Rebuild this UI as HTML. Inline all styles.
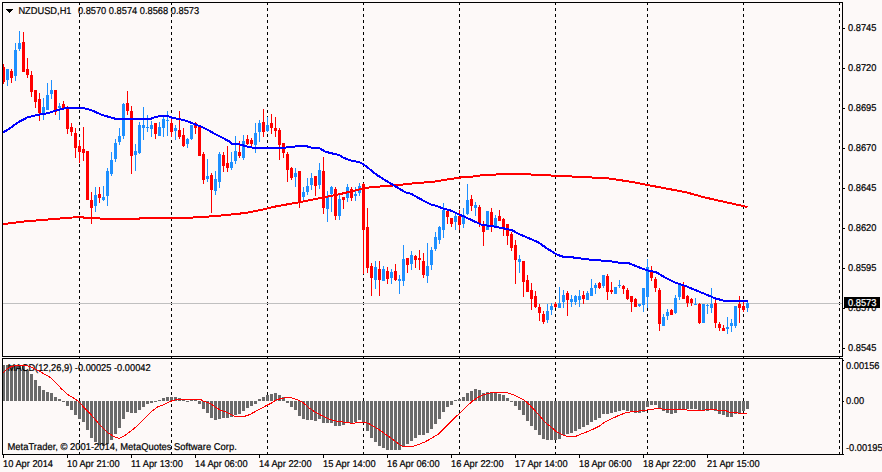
<!DOCTYPE html>
<html><head><meta charset="utf-8"><title>NZDUSD,H1</title>
<style>html,body{margin:0;padding:0;background:#fdf9f8;}body{width:882px;height:472px;overflow:hidden;}svg{display:block;}text{font-family:"Liberation Sans",sans-serif;font-size:9.9px;fill:#000;stroke:#000;stroke-width:0.2px;text-rendering:geometricPrecision;}</style>
</head><body>
<svg width="882" height="472" viewBox="0 0 882 472">
<rect x="0" y="0" width="882" height="472" fill="#fdf9f8"/>
<g shape-rendering="crispEdges" stroke="#000" stroke-width="1" stroke-dasharray="3,3">
<line x1="79.5" y1="2" x2="79.5" y2="454"/>
<line x1="171.5" y1="2" x2="171.5" y2="454"/>
<line x1="267.5" y1="2" x2="267.5" y2="454"/>
<line x1="363.5" y1="2" x2="363.5" y2="454"/>
<line x1="459.5" y1="2" x2="459.5" y2="454"/>
<line x1="555.5" y1="2" x2="555.5" y2="454"/>
<line x1="647.5" y1="2" x2="647.5" y2="454"/>
<line x1="743.5" y1="2" x2="743.5" y2="454"/>
<line x1="839.5" y1="2" x2="839.5" y2="454"/>
</g>
<rect x="3" y="303" width="839" height="1" fill="#c0c0c0" shape-rendering="crispEdges"/>
<g shape-rendering="crispEdges">
<rect x="3" y="64" width="1" height="20" fill="#ff0000"/>
<rect x="3" y="67" width="2" height="15" fill="#ff0000"/>
<rect x="7" y="69" width="1" height="17" fill="#1e90ff"/>
<rect x="6" y="69" width="3" height="11" fill="#1e90ff"/>
<rect x="11" y="69" width="1" height="14" fill="#ff0000"/>
<rect x="10" y="71" width="3" height="7" fill="#ff0000"/>
<rect x="15" y="43" width="1" height="38" fill="#1e90ff"/>
<rect x="14" y="50" width="3" height="26" fill="#1e90ff"/>
<rect x="19" y="31" width="1" height="20" fill="#1e90ff"/>
<rect x="18" y="43" width="3" height="6" fill="#1e90ff"/>
<rect x="23" y="32" width="1" height="40" fill="#ff0000"/>
<rect x="22" y="42" width="3" height="30" fill="#ff0000"/>
<rect x="27" y="58" width="1" height="20" fill="#ff0000"/>
<rect x="26" y="69" width="3" height="6" fill="#ff0000"/>
<rect x="31" y="71" width="1" height="26" fill="#ff0000"/>
<rect x="30" y="75" width="3" height="17" fill="#ff0000"/>
<rect x="35" y="90" width="1" height="18" fill="#ff0000"/>
<rect x="34" y="90" width="3" height="12" fill="#ff0000"/>
<rect x="39" y="93" width="1" height="28" fill="#ff0000"/>
<rect x="38" y="99" width="3" height="14" fill="#ff0000"/>
<rect x="43" y="98" width="1" height="22" fill="#1e90ff"/>
<rect x="42" y="107" width="3" height="6" fill="#1e90ff"/>
<rect x="47" y="83" width="1" height="27" fill="#1e90ff"/>
<rect x="46" y="95" width="3" height="15" fill="#1e90ff"/>
<rect x="51" y="80" width="1" height="19" fill="#1e90ff"/>
<rect x="50" y="90" width="3" height="4" fill="#1e90ff"/>
<rect x="55" y="90" width="1" height="25" fill="#ff0000"/>
<rect x="54" y="90" width="3" height="22" fill="#ff0000"/>
<rect x="59" y="103" width="1" height="17" fill="#1e90ff"/>
<rect x="58" y="106" width="3" height="2" fill="#1e90ff"/>
<rect x="63" y="101" width="1" height="7" fill="#ff0000"/>
<rect x="62" y="104" width="3" height="4" fill="#ff0000"/>
<rect x="67" y="106" width="1" height="28" fill="#ff0000"/>
<rect x="66" y="108" width="3" height="21" fill="#ff0000"/>
<rect x="71" y="123" width="1" height="13" fill="#ff0000"/>
<rect x="70" y="127" width="3" height="5" fill="#ff0000"/>
<rect x="75" y="128" width="1" height="30" fill="#ff0000"/>
<rect x="74" y="133" width="3" height="15" fill="#ff0000"/>
<rect x="79" y="140" width="1" height="23" fill="#ff0000"/>
<rect x="78" y="146" width="3" height="6" fill="#ff0000"/>
<rect x="83" y="127" width="1" height="34" fill="#ff0000"/>
<rect x="82" y="149" width="3" height="4" fill="#ff0000"/>
<rect x="87" y="151" width="1" height="49" fill="#ff0000"/>
<rect x="86" y="151" width="3" height="49" fill="#ff0000"/>
<rect x="91" y="192" width="1" height="32" fill="#ff0000"/>
<rect x="90" y="200" width="3" height="8" fill="#ff0000"/>
<rect x="95" y="187" width="1" height="25" fill="#1e90ff"/>
<rect x="94" y="195" width="3" height="11" fill="#1e90ff"/>
<rect x="99" y="187" width="1" height="16" fill="#ff0000"/>
<rect x="98" y="194" width="3" height="4" fill="#ff0000"/>
<rect x="103" y="186" width="1" height="15" fill="#1e90ff"/>
<rect x="102" y="197" width="3" height="3" fill="#1e90ff"/>
<rect x="107" y="168" width="1" height="38" fill="#1e90ff"/>
<rect x="106" y="171" width="3" height="25" fill="#1e90ff"/>
<rect x="111" y="152" width="1" height="24" fill="#1e90ff"/>
<rect x="110" y="160" width="3" height="14" fill="#1e90ff"/>
<rect x="115" y="139" width="1" height="23" fill="#1e90ff"/>
<rect x="114" y="143" width="3" height="16" fill="#1e90ff"/>
<rect x="119" y="128" width="1" height="17" fill="#1e90ff"/>
<rect x="118" y="136" width="3" height="6" fill="#1e90ff"/>
<rect x="123" y="103" width="1" height="36" fill="#1e90ff"/>
<rect x="122" y="104" width="3" height="32" fill="#1e90ff"/>
<rect x="127" y="91" width="1" height="24" fill="#ff0000"/>
<rect x="126" y="103" width="3" height="8" fill="#ff0000"/>
<rect x="131" y="106" width="1" height="68" fill="#ff0000"/>
<rect x="130" y="111" width="3" height="45" fill="#ff0000"/>
<rect x="135" y="144" width="1" height="27" fill="#1e90ff"/>
<rect x="134" y="151" width="3" height="4" fill="#1e90ff"/>
<rect x="139" y="122" width="1" height="32" fill="#1e90ff"/>
<rect x="138" y="125" width="3" height="28" fill="#1e90ff"/>
<rect x="143" y="107" width="1" height="33" fill="#1e90ff"/>
<rect x="142" y="125" width="3" height="3" fill="#1e90ff"/>
<rect x="147" y="115" width="1" height="17" fill="#1e90ff"/>
<rect x="146" y="127" width="3" height="1" fill="#1e90ff"/>
<rect x="151" y="121" width="1" height="16" fill="#1e90ff"/>
<rect x="150" y="125" width="3" height="4" fill="#1e90ff"/>
<rect x="155" y="123" width="1" height="16" fill="#ff0000"/>
<rect x="154" y="123" width="3" height="11" fill="#ff0000"/>
<rect x="159" y="122" width="1" height="14" fill="#1e90ff"/>
<rect x="158" y="127" width="3" height="9" fill="#1e90ff"/>
<rect x="163" y="117" width="1" height="20" fill="#1e90ff"/>
<rect x="162" y="119" width="3" height="9" fill="#1e90ff"/>
<rect x="167" y="111" width="1" height="25" fill="#1e90ff"/>
<rect x="166" y="120" width="3" height="1" fill="#1e90ff"/>
<rect x="171" y="118" width="1" height="19" fill="#ff0000"/>
<rect x="170" y="123" width="3" height="9" fill="#ff0000"/>
<rect x="175" y="125" width="1" height="15" fill="#1e90ff"/>
<rect x="174" y="128" width="3" height="3" fill="#1e90ff"/>
<rect x="179" y="111" width="1" height="28" fill="#ff0000"/>
<rect x="178" y="130" width="3" height="7" fill="#ff0000"/>
<rect x="183" y="128" width="1" height="19" fill="#ff0000"/>
<rect x="182" y="135" width="3" height="11" fill="#ff0000"/>
<rect x="187" y="138" width="1" height="10" fill="#1e90ff"/>
<rect x="186" y="139" width="3" height="5" fill="#1e90ff"/>
<rect x="191" y="125" width="1" height="15" fill="#1e90ff"/>
<rect x="190" y="125" width="3" height="14" fill="#1e90ff"/>
<rect x="195" y="122" width="1" height="12" fill="#ff0000"/>
<rect x="194" y="123" width="3" height="5" fill="#ff0000"/>
<rect x="199" y="125" width="1" height="31" fill="#ff0000"/>
<rect x="198" y="126" width="3" height="30" fill="#ff0000"/>
<rect x="203" y="152" width="1" height="32" fill="#ff0000"/>
<rect x="202" y="154" width="3" height="26" fill="#ff0000"/>
<rect x="207" y="159" width="1" height="23" fill="#1e90ff"/>
<rect x="206" y="176" width="3" height="3" fill="#1e90ff"/>
<rect x="211" y="173" width="1" height="40" fill="#ff0000"/>
<rect x="210" y="175" width="3" height="15" fill="#ff0000"/>
<rect x="215" y="171" width="1" height="24" fill="#1e90ff"/>
<rect x="214" y="179" width="3" height="12" fill="#1e90ff"/>
<rect x="219" y="152" width="1" height="36" fill="#1e90ff"/>
<rect x="218" y="154" width="3" height="28" fill="#1e90ff"/>
<rect x="223" y="152" width="1" height="20" fill="#ff0000"/>
<rect x="222" y="155" width="3" height="11" fill="#ff0000"/>
<rect x="227" y="146" width="1" height="26" fill="#ff0000"/>
<rect x="226" y="163" width="3" height="5" fill="#ff0000"/>
<rect x="231" y="152" width="1" height="18" fill="#1e90ff"/>
<rect x="230" y="162" width="3" height="6" fill="#1e90ff"/>
<rect x="235" y="136" width="1" height="28" fill="#1e90ff"/>
<rect x="234" y="151" width="3" height="10" fill="#1e90ff"/>
<rect x="239" y="141" width="1" height="17" fill="#ff0000"/>
<rect x="238" y="152" width="3" height="4" fill="#ff0000"/>
<rect x="243" y="135" width="1" height="25" fill="#1e90ff"/>
<rect x="242" y="141" width="3" height="17" fill="#1e90ff"/>
<rect x="247" y="135" width="1" height="10" fill="#ff0000"/>
<rect x="246" y="139" width="3" height="5" fill="#ff0000"/>
<rect x="251" y="138" width="1" height="8" fill="#ff0000"/>
<rect x="250" y="140" width="3" height="4" fill="#ff0000"/>
<rect x="255" y="123" width="1" height="30" fill="#1e90ff"/>
<rect x="254" y="133" width="3" height="12" fill="#1e90ff"/>
<rect x="259" y="120" width="1" height="22" fill="#1e90ff"/>
<rect x="258" y="123" width="3" height="9" fill="#1e90ff"/>
<rect x="263" y="109" width="1" height="28" fill="#ff0000"/>
<rect x="262" y="122" width="3" height="10" fill="#ff0000"/>
<rect x="267" y="117" width="1" height="15" fill="#1e90ff"/>
<rect x="266" y="125" width="3" height="6" fill="#1e90ff"/>
<rect x="271" y="114" width="1" height="20" fill="#ff0000"/>
<rect x="270" y="123" width="3" height="5" fill="#ff0000"/>
<rect x="275" y="117" width="1" height="20" fill="#ff0000"/>
<rect x="274" y="128" width="3" height="3" fill="#ff0000"/>
<rect x="279" y="128" width="1" height="32" fill="#ff0000"/>
<rect x="278" y="130" width="3" height="15" fill="#ff0000"/>
<rect x="283" y="143" width="1" height="15" fill="#ff0000"/>
<rect x="282" y="143" width="3" height="10" fill="#ff0000"/>
<rect x="287" y="152" width="1" height="30" fill="#ff0000"/>
<rect x="286" y="154" width="3" height="16" fill="#ff0000"/>
<rect x="291" y="167" width="1" height="13" fill="#ff0000"/>
<rect x="290" y="168" width="3" height="10" fill="#ff0000"/>
<rect x="295" y="168" width="1" height="19" fill="#1e90ff"/>
<rect x="294" y="173" width="3" height="4" fill="#1e90ff"/>
<rect x="299" y="171" width="1" height="37" fill="#ff0000"/>
<rect x="298" y="171" width="3" height="31" fill="#ff0000"/>
<rect x="303" y="187" width="1" height="13" fill="#1e90ff"/>
<rect x="302" y="192" width="3" height="5" fill="#1e90ff"/>
<rect x="307" y="178" width="1" height="17" fill="#1e90ff"/>
<rect x="306" y="186" width="3" height="6" fill="#1e90ff"/>
<rect x="311" y="173" width="1" height="17" fill="#1e90ff"/>
<rect x="310" y="178" width="3" height="7" fill="#1e90ff"/>
<rect x="315" y="176" width="1" height="20" fill="#ff0000"/>
<rect x="314" y="176" width="3" height="10" fill="#ff0000"/>
<rect x="319" y="163" width="1" height="26" fill="#1e90ff"/>
<rect x="318" y="170" width="3" height="15" fill="#1e90ff"/>
<rect x="323" y="157" width="1" height="57" fill="#ff0000"/>
<rect x="322" y="171" width="3" height="37" fill="#ff0000"/>
<rect x="327" y="191" width="1" height="31" fill="#1e90ff"/>
<rect x="326" y="196" width="3" height="13" fill="#1e90ff"/>
<rect x="331" y="186" width="1" height="26" fill="#1e90ff"/>
<rect x="330" y="187" width="3" height="7" fill="#1e90ff"/>
<rect x="335" y="187" width="1" height="33" fill="#ff0000"/>
<rect x="334" y="189" width="3" height="27" fill="#ff0000"/>
<rect x="339" y="195" width="1" height="25" fill="#1e90ff"/>
<rect x="338" y="199" width="3" height="17" fill="#1e90ff"/>
<rect x="343" y="197" width="1" height="12" fill="#ff0000"/>
<rect x="342" y="197" width="3" height="3" fill="#ff0000"/>
<rect x="347" y="184" width="1" height="18" fill="#1e90ff"/>
<rect x="346" y="187" width="3" height="11" fill="#1e90ff"/>
<rect x="351" y="187" width="1" height="14" fill="#ff0000"/>
<rect x="350" y="189" width="3" height="9" fill="#ff0000"/>
<rect x="355" y="187" width="1" height="14" fill="#1e90ff"/>
<rect x="354" y="194" width="3" height="2" fill="#1e90ff"/>
<rect x="359" y="183" width="1" height="13" fill="#1e90ff"/>
<rect x="358" y="186" width="3" height="7" fill="#1e90ff"/>
<rect x="363" y="183" width="1" height="91" fill="#ff0000"/>
<rect x="362" y="184" width="3" height="46" fill="#ff0000"/>
<rect x="367" y="208" width="1" height="65" fill="#ff0000"/>
<rect x="366" y="227" width="3" height="41" fill="#ff0000"/>
<rect x="371" y="263" width="1" height="33" fill="#ff0000"/>
<rect x="370" y="266" width="3" height="12" fill="#ff0000"/>
<rect x="375" y="261" width="1" height="28" fill="#1e90ff"/>
<rect x="374" y="267" width="3" height="13" fill="#1e90ff"/>
<rect x="379" y="261" width="1" height="35" fill="#ff0000"/>
<rect x="378" y="269" width="3" height="11" fill="#ff0000"/>
<rect x="383" y="266" width="1" height="15" fill="#1e90ff"/>
<rect x="382" y="269" width="3" height="12" fill="#1e90ff"/>
<rect x="387" y="267" width="1" height="17" fill="#ff0000"/>
<rect x="386" y="271" width="3" height="8" fill="#ff0000"/>
<rect x="391" y="269" width="1" height="15" fill="#1e90ff"/>
<rect x="390" y="272" width="3" height="6" fill="#1e90ff"/>
<rect x="395" y="264" width="1" height="17" fill="#ff0000"/>
<rect x="394" y="271" width="3" height="9" fill="#ff0000"/>
<rect x="399" y="275" width="1" height="19" fill="#1e90ff"/>
<rect x="398" y="279" width="3" height="2" fill="#1e90ff"/>
<rect x="403" y="245" width="1" height="41" fill="#1e90ff"/>
<rect x="402" y="259" width="3" height="22" fill="#1e90ff"/>
<rect x="407" y="258" width="1" height="15" fill="#ff0000"/>
<rect x="406" y="258" width="3" height="7" fill="#ff0000"/>
<rect x="411" y="251" width="1" height="19" fill="#1e90ff"/>
<rect x="410" y="255" width="3" height="9" fill="#1e90ff"/>
<rect x="415" y="255" width="1" height="13" fill="#ff0000"/>
<rect x="414" y="256" width="3" height="4" fill="#ff0000"/>
<rect x="419" y="250" width="1" height="20" fill="#ff0000"/>
<rect x="418" y="258" width="3" height="2" fill="#ff0000"/>
<rect x="423" y="253" width="1" height="25" fill="#ff0000"/>
<rect x="422" y="261" width="3" height="14" fill="#ff0000"/>
<rect x="427" y="243" width="1" height="40" fill="#1e90ff"/>
<rect x="426" y="266" width="3" height="10" fill="#1e90ff"/>
<rect x="431" y="247" width="1" height="23" fill="#1e90ff"/>
<rect x="430" y="250" width="3" height="15" fill="#1e90ff"/>
<rect x="435" y="232" width="1" height="19" fill="#1e90ff"/>
<rect x="434" y="237" width="3" height="12" fill="#1e90ff"/>
<rect x="439" y="226" width="1" height="18" fill="#1e90ff"/>
<rect x="438" y="227" width="3" height="13" fill="#1e90ff"/>
<rect x="443" y="203" width="1" height="35" fill="#1e90ff"/>
<rect x="442" y="210" width="3" height="20" fill="#1e90ff"/>
<rect x="447" y="210" width="1" height="14" fill="#ff0000"/>
<rect x="446" y="211" width="3" height="6" fill="#ff0000"/>
<rect x="451" y="218" width="1" height="9" fill="#ff0000"/>
<rect x="450" y="218" width="3" height="6" fill="#ff0000"/>
<rect x="455" y="214" width="1" height="16" fill="#1e90ff"/>
<rect x="454" y="216" width="3" height="6" fill="#1e90ff"/>
<rect x="459" y="210" width="1" height="20" fill="#ff0000"/>
<rect x="458" y="216" width="3" height="9" fill="#ff0000"/>
<rect x="463" y="208" width="1" height="20" fill="#1e90ff"/>
<rect x="462" y="215" width="3" height="9" fill="#1e90ff"/>
<rect x="467" y="184" width="1" height="31" fill="#1e90ff"/>
<rect x="466" y="200" width="3" height="14" fill="#1e90ff"/>
<rect x="471" y="195" width="1" height="16" fill="#ff0000"/>
<rect x="470" y="199" width="3" height="7" fill="#ff0000"/>
<rect x="475" y="202" width="1" height="14" fill="#1e90ff"/>
<rect x="474" y="205" width="3" height="3" fill="#1e90ff"/>
<rect x="479" y="205" width="1" height="22" fill="#ff0000"/>
<rect x="478" y="207" width="3" height="16" fill="#ff0000"/>
<rect x="483" y="221" width="1" height="25" fill="#ff0000"/>
<rect x="482" y="225" width="3" height="7" fill="#ff0000"/>
<rect x="487" y="211" width="1" height="19" fill="#1e90ff"/>
<rect x="486" y="211" width="3" height="19" fill="#1e90ff"/>
<rect x="491" y="208" width="1" height="24" fill="#ff0000"/>
<rect x="490" y="212" width="3" height="13" fill="#ff0000"/>
<rect x="495" y="215" width="1" height="11" fill="#1e90ff"/>
<rect x="494" y="218" width="3" height="8" fill="#1e90ff"/>
<rect x="499" y="210" width="1" height="11" fill="#ff0000"/>
<rect x="498" y="216" width="3" height="5" fill="#ff0000"/>
<rect x="503" y="218" width="1" height="18" fill="#ff0000"/>
<rect x="502" y="219" width="3" height="8" fill="#ff0000"/>
<rect x="507" y="224" width="1" height="21" fill="#ff0000"/>
<rect x="506" y="224" width="3" height="12" fill="#ff0000"/>
<rect x="511" y="232" width="1" height="19" fill="#ff0000"/>
<rect x="510" y="234" width="3" height="14" fill="#ff0000"/>
<rect x="515" y="240" width="1" height="44" fill="#ff0000"/>
<rect x="514" y="245" width="3" height="15" fill="#ff0000"/>
<rect x="519" y="255" width="1" height="18" fill="#1e90ff"/>
<rect x="518" y="259" width="3" height="3" fill="#1e90ff"/>
<rect x="523" y="261" width="1" height="36" fill="#ff0000"/>
<rect x="522" y="261" width="3" height="21" fill="#ff0000"/>
<rect x="527" y="275" width="1" height="17" fill="#ff0000"/>
<rect x="526" y="280" width="3" height="12" fill="#ff0000"/>
<rect x="531" y="283" width="1" height="27" fill="#ff0000"/>
<rect x="530" y="290" width="3" height="9" fill="#ff0000"/>
<rect x="535" y="291" width="1" height="17" fill="#ff0000"/>
<rect x="534" y="296" width="3" height="11" fill="#ff0000"/>
<rect x="539" y="304" width="1" height="17" fill="#ff0000"/>
<rect x="538" y="307" width="3" height="6" fill="#ff0000"/>
<rect x="543" y="311" width="1" height="13" fill="#ff0000"/>
<rect x="542" y="314" width="3" height="8" fill="#ff0000"/>
<rect x="547" y="304" width="1" height="19" fill="#1e90ff"/>
<rect x="546" y="311" width="3" height="9" fill="#1e90ff"/>
<rect x="551" y="303" width="1" height="12" fill="#1e90ff"/>
<rect x="550" y="306" width="3" height="4" fill="#1e90ff"/>
<rect x="555" y="302" width="1" height="6" fill="#ff0000"/>
<rect x="554" y="304" width="3" height="3" fill="#ff0000"/>
<rect x="559" y="287" width="1" height="21" fill="#1e90ff"/>
<rect x="558" y="303" width="3" height="5" fill="#1e90ff"/>
<rect x="563" y="290" width="1" height="18" fill="#1e90ff"/>
<rect x="562" y="295" width="3" height="7" fill="#1e90ff"/>
<rect x="567" y="291" width="1" height="25" fill="#ff0000"/>
<rect x="566" y="293" width="3" height="7" fill="#ff0000"/>
<rect x="571" y="295" width="1" height="12" fill="#1e90ff"/>
<rect x="570" y="299" width="3" height="3" fill="#1e90ff"/>
<rect x="575" y="295" width="1" height="10" fill="#1e90ff"/>
<rect x="574" y="296" width="3" height="6" fill="#1e90ff"/>
<rect x="579" y="290" width="1" height="17" fill="#1e90ff"/>
<rect x="578" y="296" width="3" height="4" fill="#1e90ff"/>
<rect x="583" y="291" width="1" height="13" fill="#ff0000"/>
<rect x="582" y="295" width="3" height="4" fill="#ff0000"/>
<rect x="587" y="291" width="1" height="9" fill="#1e90ff"/>
<rect x="586" y="293" width="3" height="7" fill="#1e90ff"/>
<rect x="591" y="279" width="1" height="17" fill="#1e90ff"/>
<rect x="590" y="288" width="3" height="8" fill="#1e90ff"/>
<rect x="595" y="283" width="1" height="11" fill="#1e90ff"/>
<rect x="594" y="285" width="3" height="3" fill="#1e90ff"/>
<rect x="599" y="282" width="1" height="7" fill="#ff0000"/>
<rect x="598" y="283" width="3" height="5" fill="#ff0000"/>
<rect x="603" y="275" width="1" height="13" fill="#1e90ff"/>
<rect x="602" y="275" width="3" height="11" fill="#1e90ff"/>
<rect x="607" y="274" width="1" height="26" fill="#ff0000"/>
<rect x="606" y="276" width="3" height="16" fill="#ff0000"/>
<rect x="611" y="282" width="1" height="12" fill="#ff0000"/>
<rect x="610" y="290" width="3" height="2" fill="#ff0000"/>
<rect x="615" y="287" width="1" height="7" fill="#1e90ff"/>
<rect x="614" y="287" width="3" height="7" fill="#1e90ff"/>
<rect x="619" y="280" width="1" height="8" fill="#1e90ff"/>
<rect x="618" y="285" width="3" height="1" fill="#1e90ff"/>
<rect x="623" y="285" width="1" height="9" fill="#ff0000"/>
<rect x="622" y="286" width="3" height="3" fill="#ff0000"/>
<rect x="627" y="288" width="1" height="12" fill="#ff0000"/>
<rect x="626" y="290" width="3" height="9" fill="#ff0000"/>
<rect x="631" y="296" width="1" height="16" fill="#ff0000"/>
<rect x="630" y="296" width="3" height="6" fill="#ff0000"/>
<rect x="635" y="298" width="1" height="9" fill="#ff0000"/>
<rect x="634" y="299" width="3" height="8" fill="#ff0000"/>
<rect x="639" y="304" width="1" height="3" fill="#1e90ff"/>
<rect x="638" y="304" width="3" height="2" fill="#1e90ff"/>
<rect x="643" y="288" width="1" height="24" fill="#1e90ff"/>
<rect x="642" y="288" width="3" height="17" fill="#1e90ff"/>
<rect x="647" y="259" width="1" height="49" fill="#1e90ff"/>
<rect x="646" y="267" width="3" height="30" fill="#1e90ff"/>
<rect x="651" y="266" width="1" height="15" fill="#ff0000"/>
<rect x="650" y="270" width="3" height="8" fill="#ff0000"/>
<rect x="655" y="277" width="1" height="15" fill="#ff0000"/>
<rect x="654" y="279" width="3" height="9" fill="#ff0000"/>
<rect x="659" y="288" width="1" height="43" fill="#ff0000"/>
<rect x="658" y="290" width="3" height="34" fill="#ff0000"/>
<rect x="663" y="314" width="1" height="12" fill="#1e90ff"/>
<rect x="662" y="317" width="3" height="9" fill="#1e90ff"/>
<rect x="667" y="309" width="1" height="11" fill="#1e90ff"/>
<rect x="666" y="312" width="3" height="4" fill="#1e90ff"/>
<rect x="671" y="309" width="1" height="6" fill="#ff0000"/>
<rect x="670" y="310" width="3" height="5" fill="#ff0000"/>
<rect x="675" y="295" width="1" height="19" fill="#1e90ff"/>
<rect x="674" y="298" width="3" height="15" fill="#1e90ff"/>
<rect x="679" y="283" width="1" height="17" fill="#1e90ff"/>
<rect x="678" y="285" width="3" height="12" fill="#1e90ff"/>
<rect x="683" y="282" width="1" height="17" fill="#ff0000"/>
<rect x="682" y="286" width="3" height="13" fill="#ff0000"/>
<rect x="687" y="295" width="1" height="12" fill="#ff0000"/>
<rect x="686" y="296" width="3" height="7" fill="#ff0000"/>
<rect x="691" y="298" width="1" height="8" fill="#ff0000"/>
<rect x="690" y="299" width="3" height="4" fill="#ff0000"/>
<rect x="695" y="298" width="1" height="7" fill="#1e90ff"/>
<rect x="694" y="304" width="3" height="1" fill="#1e90ff"/>
<rect x="699" y="303" width="1" height="21" fill="#ff0000"/>
<rect x="698" y="304" width="3" height="19" fill="#ff0000"/>
<rect x="703" y="304" width="1" height="19" fill="#1e90ff"/>
<rect x="702" y="304" width="3" height="19" fill="#1e90ff"/>
<rect x="707" y="304" width="1" height="10" fill="#1e90ff"/>
<rect x="706" y="305" width="3" height="1" fill="#1e90ff"/>
<rect x="711" y="288" width="1" height="25" fill="#1e90ff"/>
<rect x="710" y="304" width="3" height="4" fill="#1e90ff"/>
<rect x="715" y="300" width="1" height="28" fill="#ff0000"/>
<rect x="714" y="303" width="3" height="20" fill="#ff0000"/>
<rect x="719" y="322" width="1" height="9" fill="#ff0000"/>
<rect x="718" y="324" width="3" height="4" fill="#ff0000"/>
<rect x="723" y="325" width="1" height="6" fill="#ff0000"/>
<rect x="722" y="328" width="3" height="3" fill="#ff0000"/>
<rect x="727" y="317" width="1" height="17" fill="#1e90ff"/>
<rect x="726" y="327" width="3" height="2" fill="#1e90ff"/>
<rect x="731" y="319" width="1" height="13" fill="#1e90ff"/>
<rect x="730" y="323" width="3" height="3" fill="#1e90ff"/>
<rect x="735" y="306" width="1" height="22" fill="#1e90ff"/>
<rect x="734" y="306" width="3" height="20" fill="#1e90ff"/>
<rect x="739" y="296" width="1" height="27" fill="#ff0000"/>
<rect x="738" y="304" width="3" height="4" fill="#ff0000"/>
<rect x="743" y="302" width="1" height="10" fill="#ff0000"/>
<rect x="742" y="306" width="3" height="4" fill="#ff0000"/>
<rect x="747" y="301" width="1" height="11" fill="#1e90ff"/>
<rect x="746" y="303" width="3" height="5" fill="#1e90ff"/>
</g>
<polyline points="3.0,224.1 8.2,223.5 16.3,222.5 24.5,221.5 36.3,220.5 48.0,219.5 60.0,218.5 72.6,217.5 78.0,217.2 83.5,217.5 85.0,218.0 98.0,218.2 99.8,218.5 101.0,218.8 138.0,218.8 139.7,218.5 141.0,218.1 192.0,217.8 194.0,217.3 207.0,216.7 220.0,215.6 232.5,214.4 245.0,213.0 258.0,210.6 275.0,206.6 298.8,202.3 322.7,197.6 339.7,194.2 362.5,188.6 366.0,187.9 372.0,187.1 380.0,186.5 388.0,185.9 395.0,185.3 403.0,184.5 412.5,183.5 424.0,182.5 435.0,181.5 441.0,180.5 447.0,179.5 454.0,178.5 460.5,177.5 473.0,176.5 480.0,175.5 496.0,174.5 505.0,174.1 513.5,174.0 522.0,174.1 531.0,174.5 551.0,175.5 572.0,176.5 592.0,177.5 607.5,178.3 622.5,180.5 635.0,182.5 647.5,185.0 665.0,188.3 685.0,192.0 705.0,197.5 725.0,202.0 747.5,207.0" fill="none" stroke="#ff0000" stroke-width="2" stroke-linejoin="round" shape-rendering="crispEdges"/>
<polyline points="3.4,132.4 10.2,128.0 17.0,123.0 27.2,117.5 39.0,114.6 47.6,113.3 56.0,110.5 68.0,107.6 81.6,107.6 91.8,110.3 102.0,114.9 115.6,118.8 132.7,119.5 140.2,119.2 150.2,119.0 154.0,117.6 159.4,116.0 167.5,116.0 172.7,117.9 180.8,119.4 188.0,121.4 194.1,124.0 201.2,126.7 207.3,129.6 213.5,133.2 221.6,137.2 229.8,141.8 231.5,143.8 239.0,144.2 243.0,145.3 247.0,146.6 251.0,147.4 255.6,148.0 280.0,148.0 286.0,147.5 295.0,146.5 300.0,146.0 304.0,146.0 307.6,146.5 310.7,147.5 312.0,147.8 319.3,148.2 325.4,151.7 331.5,153.3 338.7,154.8 343.8,157.9 351.9,160.9 359.0,161.9 363.7,164.5 368.3,168.0 376.4,174.7 384.6,179.8 392.8,184.8 395.2,186.2 405.4,192.3 411.5,193.9 415.6,196.4 425.8,202.0 432.0,205.0 436.0,205.7 442.0,208.2 451.3,210.7 456.4,213.3 464.6,216.8 470.0,219.3 481.3,224.6 492.7,226.3 504.0,228.4 512.0,230.3 519.9,234.5 529.0,238.2 538.0,242.2 547.0,248.4 555.0,253.5 560.7,256.0 564.0,257.0 569.8,257.0 578.4,258.2 592.0,259.9 609.0,261.0 619.3,262.7 627.7,262.7 637.0,266.6 647.2,270.3 655.7,272.0 664.2,277.0 676.0,283.0 684.6,285.6 694.8,289.9 705.0,294.0 715.2,298.4 723.7,300.6 747.5,300.6" fill="none" stroke="#0000ff" stroke-width="2" stroke-linejoin="round" shape-rendering="crispEdges"/>
<g shape-rendering="crispEdges" fill="#6a6a6a">
<rect x="3" y="365" width="2" height="36"/>
<rect x="6" y="365" width="3" height="36"/>
<rect x="10" y="365" width="3" height="36"/>
<rect x="14" y="365" width="3" height="36"/>
<rect x="18" y="365" width="3" height="36"/>
<rect x="22" y="365" width="3" height="36"/>
<rect x="26" y="370" width="3" height="31"/>
<rect x="30" y="374" width="3" height="27"/>
<rect x="34" y="380" width="3" height="21"/>
<rect x="38" y="386" width="3" height="15"/>
<rect x="42" y="390" width="3" height="11"/>
<rect x="46" y="392" width="3" height="9"/>
<rect x="50" y="393" width="3" height="8"/>
<rect x="54" y="397" width="3" height="4"/>
<rect x="58" y="399" width="3" height="2"/>
<rect x="62" y="401" width="3" height="1"/>
<rect x="66" y="401" width="3" height="5"/>
<rect x="70" y="401" width="3" height="9"/>
<rect x="74" y="401" width="3" height="14"/>
<rect x="78" y="401" width="3" height="18"/>
<rect x="82" y="401" width="3" height="21"/>
<rect x="86" y="401" width="3" height="29"/>
<rect x="90" y="401" width="3" height="37"/>
<rect x="94" y="401" width="3" height="41"/>
<rect x="98" y="401" width="3" height="44"/>
<rect x="102" y="401" width="3" height="45"/>
<rect x="106" y="401" width="3" height="43"/>
<rect x="110" y="401" width="3" height="39"/>
<rect x="114" y="401" width="3" height="33"/>
<rect x="118" y="401" width="3" height="27"/>
<rect x="122" y="401" width="3" height="18"/>
<rect x="126" y="401" width="3" height="11"/>
<rect x="130" y="401" width="3" height="12"/>
<rect x="134" y="401" width="3" height="12"/>
<rect x="138" y="401" width="3" height="9"/>
<rect x="142" y="401" width="3" height="6"/>
<rect x="146" y="401" width="3" height="3"/>
<rect x="150" y="401" width="3" height="2"/>
<rect x="154" y="401" width="3" height="1"/>
<rect x="158" y="400" width="3" height="1"/>
<rect x="162" y="398" width="3" height="3"/>
<rect x="166" y="397" width="3" height="4"/>
<rect x="170" y="397" width="3" height="4"/>
<rect x="174" y="397" width="3" height="4"/>
<rect x="178" y="398" width="3" height="3"/>
<rect x="182" y="399" width="3" height="2"/>
<rect x="186" y="401" width="3" height="1"/>
<rect x="190" y="400" width="3" height="1"/>
<rect x="194" y="400" width="3" height="1"/>
<rect x="198" y="401" width="3" height="3"/>
<rect x="202" y="401" width="3" height="8"/>
<rect x="206" y="401" width="3" height="12"/>
<rect x="210" y="401" width="3" height="17"/>
<rect x="214" y="401" width="3" height="19"/>
<rect x="218" y="401" width="3" height="18"/>
<rect x="222" y="401" width="3" height="17"/>
<rect x="226" y="401" width="3" height="17"/>
<rect x="230" y="401" width="3" height="16"/>
<rect x="234" y="401" width="3" height="14"/>
<rect x="238" y="401" width="3" height="13"/>
<rect x="242" y="401" width="3" height="10"/>
<rect x="246" y="401" width="3" height="7"/>
<rect x="250" y="401" width="3" height="5"/>
<rect x="254" y="401" width="3" height="3"/>
<rect x="258" y="399" width="3" height="2"/>
<rect x="262" y="397" width="3" height="4"/>
<rect x="266" y="395" width="3" height="6"/>
<rect x="270" y="394" width="3" height="7"/>
<rect x="274" y="393" width="3" height="8"/>
<rect x="278" y="395" width="3" height="6"/>
<rect x="282" y="397" width="3" height="4"/>
<rect x="286" y="401" width="3" height="2"/>
<rect x="290" y="401" width="3" height="6"/>
<rect x="294" y="401" width="3" height="9"/>
<rect x="298" y="401" width="3" height="15"/>
<rect x="302" y="401" width="3" height="18"/>
<rect x="306" y="401" width="3" height="19"/>
<rect x="310" y="401" width="3" height="19"/>
<rect x="314" y="401" width="3" height="20"/>
<rect x="318" y="401" width="3" height="18"/>
<rect x="322" y="401" width="3" height="22"/>
<rect x="326" y="401" width="3" height="22"/>
<rect x="330" y="401" width="3" height="22"/>
<rect x="334" y="401" width="3" height="25"/>
<rect x="338" y="401" width="3" height="25"/>
<rect x="342" y="401" width="3" height="24"/>
<rect x="346" y="401" width="3" height="22"/>
<rect x="350" y="401" width="3" height="22"/>
<rect x="354" y="401" width="3" height="21"/>
<rect x="358" y="401" width="3" height="19"/>
<rect x="362" y="401" width="3" height="22"/>
<rect x="366" y="401" width="3" height="30"/>
<rect x="370" y="401" width="3" height="37"/>
<rect x="374" y="401" width="3" height="41"/>
<rect x="378" y="401" width="3" height="45"/>
<rect x="382" y="401" width="3" height="47"/>
<rect x="386" y="401" width="3" height="49"/>
<rect x="390" y="401" width="3" height="49"/>
<rect x="394" y="401" width="3" height="49"/>
<rect x="398" y="401" width="3" height="49"/>
<rect x="402" y="401" width="3" height="45"/>
<rect x="406" y="401" width="3" height="43"/>
<rect x="410" y="401" width="3" height="40"/>
<rect x="414" y="401" width="3" height="37"/>
<rect x="418" y="401" width="3" height="34"/>
<rect x="422" y="401" width="3" height="34"/>
<rect x="426" y="401" width="3" height="32"/>
<rect x="430" y="401" width="3" height="28"/>
<rect x="434" y="401" width="3" height="23"/>
<rect x="438" y="401" width="3" height="18"/>
<rect x="442" y="401" width="3" height="11"/>
<rect x="446" y="401" width="3" height="6"/>
<rect x="450" y="401" width="3" height="4"/>
<rect x="454" y="400" width="3" height="1"/>
<rect x="458" y="399" width="3" height="2"/>
<rect x="462" y="397" width="3" height="4"/>
<rect x="466" y="393" width="3" height="8"/>
<rect x="470" y="391" width="3" height="10"/>
<rect x="474" y="389" width="3" height="12"/>
<rect x="478" y="390" width="3" height="11"/>
<rect x="482" y="393" width="3" height="8"/>
<rect x="486" y="392" width="3" height="9"/>
<rect x="490" y="393" width="3" height="8"/>
<rect x="494" y="393" width="3" height="8"/>
<rect x="498" y="394" width="3" height="7"/>
<rect x="502" y="395" width="3" height="6"/>
<rect x="506" y="398" width="3" height="3"/>
<rect x="510" y="401" width="3" height="1"/>
<rect x="514" y="401" width="3" height="5"/>
<rect x="518" y="401" width="3" height="9"/>
<rect x="522" y="401" width="3" height="14"/>
<rect x="526" y="401" width="3" height="20"/>
<rect x="530" y="401" width="3" height="25"/>
<rect x="534" y="401" width="3" height="29"/>
<rect x="538" y="401" width="3" height="34"/>
<rect x="542" y="401" width="3" height="38"/>
<rect x="546" y="401" width="3" height="39"/>
<rect x="550" y="401" width="3" height="39"/>
<rect x="554" y="401" width="3" height="39"/>
<rect x="558" y="401" width="3" height="38"/>
<rect x="562" y="401" width="3" height="34"/>
<rect x="566" y="401" width="3" height="33"/>
<rect x="570" y="401" width="3" height="32"/>
<rect x="574" y="401" width="3" height="30"/>
<rect x="578" y="401" width="3" height="28"/>
<rect x="582" y="401" width="3" height="26"/>
<rect x="586" y="401" width="3" height="24"/>
<rect x="590" y="401" width="3" height="21"/>
<rect x="594" y="401" width="3" height="19"/>
<rect x="598" y="401" width="3" height="17"/>
<rect x="602" y="401" width="3" height="13"/>
<rect x="606" y="401" width="3" height="13"/>
<rect x="610" y="401" width="3" height="12"/>
<rect x="614" y="401" width="3" height="11"/>
<rect x="618" y="401" width="3" height="10"/>
<rect x="622" y="401" width="3" height="9"/>
<rect x="626" y="401" width="3" height="10"/>
<rect x="630" y="401" width="3" height="11"/>
<rect x="634" y="401" width="3" height="12"/>
<rect x="638" y="401" width="3" height="12"/>
<rect x="642" y="401" width="3" height="11"/>
<rect x="646" y="401" width="3" height="6"/>
<rect x="650" y="401" width="3" height="4"/>
<rect x="654" y="401" width="3" height="4"/>
<rect x="658" y="401" width="3" height="8"/>
<rect x="662" y="401" width="3" height="10"/>
<rect x="666" y="401" width="3" height="12"/>
<rect x="670" y="401" width="3" height="13"/>
<rect x="674" y="401" width="3" height="12"/>
<rect x="678" y="401" width="3" height="9"/>
<rect x="682" y="401" width="3" height="8"/>
<rect x="686" y="401" width="3" height="8"/>
<rect x="690" y="401" width="3" height="8"/>
<rect x="694" y="401" width="3" height="8"/>
<rect x="698" y="401" width="3" height="9"/>
<rect x="702" y="401" width="3" height="9"/>
<rect x="706" y="401" width="3" height="10"/>
<rect x="710" y="401" width="3" height="9"/>
<rect x="714" y="401" width="3" height="10"/>
<rect x="718" y="401" width="3" height="13"/>
<rect x="722" y="401" width="3" height="14"/>
<rect x="726" y="401" width="3" height="16"/>
<rect x="730" y="401" width="3" height="16"/>
<rect x="734" y="401" width="3" height="13"/>
<rect x="738" y="401" width="3" height="12"/>
<rect x="742" y="401" width="3" height="10"/>
<rect x="746" y="401" width="3" height="8"/>
</g>
<text transform="translate(7.8 371.3) scale(0.9394 1)" xml:space="preserve">MACD(12,26,9) -0.00025 -0.00042</text>
<polyline points="3.1,373.1 6.1,369.7 10.2,367.1 15.3,365.6 20.4,365.3 26.5,365.6 32.7,367.7 38.8,370.7 43.9,373.8 50.0,377.3 55.1,381.9 61.2,388.6 67.3,394.2 71.4,396.7 78.6,401.3 84.5,408.0 90.2,413.7 97.0,421.6 102.7,427.9 108.3,433.0 114.0,436.7 119.1,438.3 125.4,435.2 131.0,431.0 136.7,426.2 143.5,419.7 150.3,412.6 157.1,407.2 163.9,404.6 170.7,401.3 173.4,400.3 178.0,399.5 200.6,399.5 204.0,401.4 209.7,403.1 215.4,407.1 221.0,410.5 226.7,412.2 231.2,414.5 235.2,416.4 244.3,416.4 249.4,414.7 256.2,411.1 263.0,407.4 267.5,405.0 271.3,403.1 277.0,399.5 282.7,398.4 287.2,397.2 291.7,398.0 297.4,399.7 303.0,402.6 308.8,407.7 314.4,411.6 320.0,414.7 326.9,418.1 333.7,420.7 339.4,421.5 346.2,422.4 353.0,423.5 356.8,422.7 363.6,422.3 368.1,423.2 375.0,427.2 381.7,431.5 388.5,436.3 395.4,441.4 399.9,444.8 403.3,446.5 412.4,446.5 418.0,444.8 424.8,442.0 431.6,438.3 438.4,434.0 443.4,429.2 450.2,422.4 457.0,415.7 462.7,410.6 468.3,404.9 472.9,400.6 478.5,397.0 485.4,394.2 493.3,392.2 504.6,392.2 510.3,393.6 517.1,396.4 523.9,399.8 529.6,404.8 535.5,411.2 541.3,417.7 545.9,423.1 551.5,427.3 555.5,431.0 561.7,434.5 566.3,436.0 576.5,436.0 581.0,434.1 587.8,431.5 593.5,429.0 599.2,426.2 604.8,422.2 611.6,418.8 618.4,415.6 626.3,412.6 634.3,411.4 643.8,410.6 650.2,409.4 657.3,408.7 659.7,408.0 662.9,409.4 685.0,409.4 687.5,410.3 704.0,410.3 706.5,409.4 715.2,409.4 718.4,410.3 724.8,410.3 729.5,412.2 737.5,412.7 739.0,413.5 747.3,413.5" fill="none" stroke="#ff0000" stroke-width="1" stroke-linejoin="round" shape-rendering="crispEdges"/>
<g shape-rendering="crispEdges" fill="#000">
<rect x="2" y="2" width="841" height="1"/>
<rect x="2" y="356" width="841" height="1"/>
<rect x="2" y="358" width="841" height="1"/>
<rect x="2" y="454" width="841" height="1"/>
<rect x="2" y="2" width="1" height="355"/>
<rect x="2" y="358" width="1" height="97"/>
<rect x="842" y="2" width="1" height="355"/>
<rect x="842" y="358" width="1" height="97"/>
<rect x="843" y="28" width="2" height="1"/>
<rect x="843" y="68" width="2" height="1"/>
<rect x="843" y="108" width="2" height="1"/>
<rect x="843" y="148" width="2" height="1"/>
<rect x="843" y="188" width="2" height="1"/>
<rect x="843" y="228" width="2" height="1"/>
<rect x="843" y="268" width="2" height="1"/>
<rect x="843" y="308" width="2" height="1"/>
<rect x="843" y="348" width="2" height="1"/>
<rect x="843" y="360" width="1" height="1"/>
<rect x="843" y="401" width="1" height="1"/>
<rect x="843" y="454" width="1" height="1"/>
<rect x="3" y="455" width="1" height="3"/>
<rect x="67" y="455" width="1" height="3"/>
<rect x="131" y="455" width="1" height="3"/>
<rect x="195" y="455" width="1" height="3"/>
<rect x="259" y="455" width="1" height="3"/>
<rect x="323" y="455" width="1" height="3"/>
<rect x="387" y="455" width="1" height="3"/>
<rect x="451" y="455" width="1" height="3"/>
<rect x="515" y="455" width="1" height="3"/>
<rect x="579" y="455" width="1" height="3"/>
<rect x="643" y="455" width="1" height="3"/>
<rect x="707" y="455" width="1" height="3"/>
</g>
<text transform="translate(848 31) scale(0.9394 1)" xml:space="preserve">0.8745</text>
<text transform="translate(848 71) scale(0.9394 1)" xml:space="preserve">0.8720</text>
<text transform="translate(848 111) scale(0.9394 1)" xml:space="preserve">0.8695</text>
<text transform="translate(848 151) scale(0.9394 1)" xml:space="preserve">0.8670</text>
<text transform="translate(848 191) scale(0.9394 1)" xml:space="preserve">0.8645</text>
<text transform="translate(848 231) scale(0.9394 1)" xml:space="preserve">0.8620</text>
<text transform="translate(848 271) scale(0.9394 1)" xml:space="preserve">0.8595</text>
<text transform="translate(848 311) scale(0.9394 1)" xml:space="preserve">0.8570</text>
<text transform="translate(848 351) scale(0.9394 1)" xml:space="preserve">0.8545</text>
<rect x="844" y="297" width="36" height="11" fill="#000" shape-rendering="crispEdges"/>
<text transform="translate(848 306) scale(0.9394 1)" xml:space="preserve" style="fill:#fff;stroke:#fff">0.8573</text>
<text transform="translate(846 369) scale(0.9394 1)" xml:space="preserve">0.00156</text>
<text transform="translate(846 404) scale(0.9394 1)" xml:space="preserve">0.00</text>
<text transform="translate(846 451) scale(0.9394 1)" xml:space="preserve">-0.00195</text>
<g shape-rendering="crispEdges" fill="#000"><rect x="6" y="9" width="7" height="1"/><rect x="7" y="10" width="5" height="1"/><rect x="8" y="11" width="3" height="1"/><rect x="9" y="12" width="1" height="1"/></g>
<text transform="translate(18.4 14) scale(0.9394 1)" xml:space="preserve">NZDUSD,H1</text>
<text transform="translate(77.9 14) scale(0.9394 1)" xml:space="preserve">0.8570 0.8574 0.8568 0.8573</text>
<text transform="translate(7.5 450) scale(0.9525516 1)" xml:space="preserve">MetaTrader, © 2001-2014, MetaQuotes Software Corp.</text>
<text transform="translate(3 467) scale(0.9394 1)" xml:space="preserve">10 Apr 2014</text>
<text transform="translate(67 467) scale(0.9394 1)" xml:space="preserve">10 Apr 21:00</text>
<text transform="translate(131 467) scale(0.9394 1)" xml:space="preserve">11 Apr 13:00</text>
<text transform="translate(195 467) scale(0.9394 1)" xml:space="preserve">14 Apr 06:00</text>
<text transform="translate(259 467) scale(0.9394 1)" xml:space="preserve">14 Apr 22:00</text>
<text transform="translate(323 467) scale(0.9394 1)" xml:space="preserve">15 Apr 14:00</text>
<text transform="translate(387 467) scale(0.9394 1)" xml:space="preserve">16 Apr 06:00</text>
<text transform="translate(451 467) scale(0.9394 1)" xml:space="preserve">16 Apr 22:00</text>
<text transform="translate(515 467) scale(0.9394 1)" xml:space="preserve">17 Apr 14:00</text>
<text transform="translate(579 467) scale(0.9394 1)" xml:space="preserve">18 Apr 06:00</text>
<text transform="translate(643 467) scale(0.9394 1)" xml:space="preserve">18 Apr 22:00</text>
<text transform="translate(707 467) scale(0.9394 1)" xml:space="preserve">21 Apr 15:00</text>
</svg>
</body></html>
